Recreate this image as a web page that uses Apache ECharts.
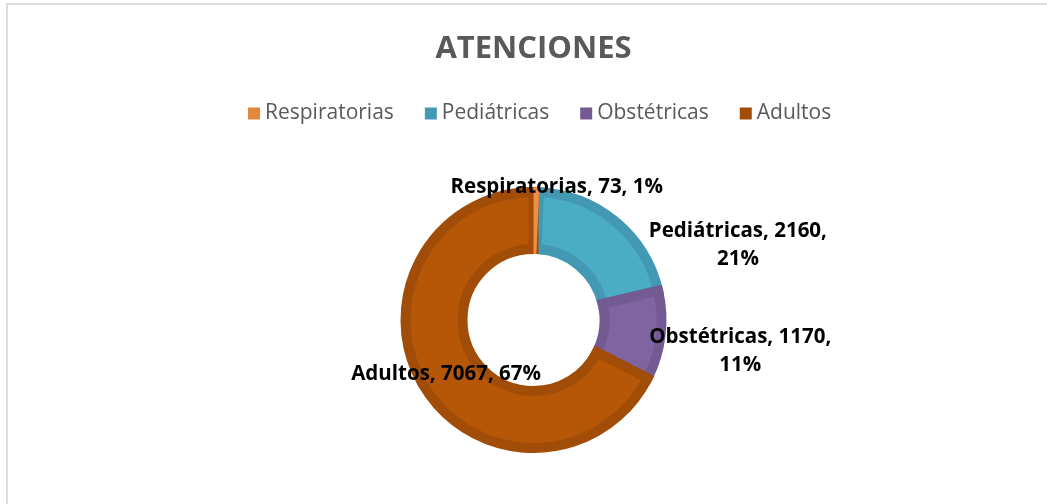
<!DOCTYPE html>
<html>
<head>
<meta charset="utf-8">
<script src="https://cdn.jsdelivr.net/npm/echarts@6/dist/echarts.min.js"></script>
<style>
    html, body { margin: 0; padding: 0; background: #fff; overflow: hidden; }
    #frame { position: absolute; left: 6px; top: 3px; width: 1100px; height: 600px; border: 2px solid #dcdcdc; }
    #chart { position: absolute; left: 0; top: 0; width: 1067px; height: 504px; }
</style>
</head>
<body>
<div id="frame"></div>
<div id="chart"></div>
<script>
const categories = ['Respiratorias', 'Pediátricas', 'Obstétricas', 'Adultos'];
const values = [73, 2160, 1170, 7067];

const fillColors = ['#F79646', '#4BACC6', '#8064A2', '#B65708'];
const darkColors = ['#E0883E', '#4399B4', '#735A93', '#A14D07'];
// label nudges from the default inside spot (Excel "best fit" look)
const labelShift = [[21, -30], [139, 4], [105, 19], [0, 1]];
const wrapPct = [false, true, true, false];

const chart = echarts.init(document.getElementById('chart'));

const option = {
    title: {
        text: 'ATENCIONES',
        left: 'center',
        top: 29,
        textStyle: {
            fontFamily: 'Open Sans',
            fontWeight: 'bold',
            fontSize: 31,
            color: '#595959'
        }
    },
    legend: {
        top: 98,
        left: 243,
        itemWidth: 12,
        itemHeight: 12,
        itemGap: 31,
        icon: 'rect',
        selectedMode: false,
        textStyle: {
            fontFamily: 'Open Sans',
            fontSize: 21,
            color: '#595959'
        },
        data: categories.map((name, i) => ({ name: name, itemStyle: { color: darkColors[i], borderWidth: 0 } }))
    },
    series: [
        {
            type: 'pie',
            center: ['50%', 320],
            radius: [71, 128],
            startAngle: 90,
            clockwise: true,
            percentPrecision: 0,
            avoidLabelOverlap: false,
            data: categories.map((name, i) => ({
                name: name,
                value: values[i],
                itemStyle: { color: fillColors[i], borderColor: darkColors[i], borderWidth: 10, borderJoin: 'miter' }
            })),
            label: {
                show: true,
                position: 'inside',
                color: '#000',
                fontFamily: 'Open Sans',
                fontWeight: 'bold',
                fontSize: 20.5,
                lineHeight: 28,
                textBorderWidth: 0,
                formatter: (p) => p.name + ', ' + p.value + ',' + (wrapPct[p.dataIndex] ? '\n' : ' ') + p.percent + '%'
            },
            labelLine: { show: false },
            labelLayout: (p) => ({ dx: labelShift[p.dataIndex][0], dy: labelShift[p.dataIndex][1] }),
            emphasis: { scale: false }
        },
        {
            // thin Respiratorias slice drawn on top so the neighbours' borders don't hide it
            type: 'pie',
            silent: true,
            center: ['50%', 320],
            radius: [66, 133],
            startAngle: 90,
            clockwise: true,
            data: categories.map((name, i) => ({
                name: name,
                value: values[i],
                itemStyle: { color: i === 0 ? '#EC8E44' : 'rgba(0,0,0,0)', borderWidth: 0 }
            })),
            label: { show: false },
            labelLine: { show: false }
        }
    ]
};

chart.setOption(option);
window.addEventListener('resize', () => {
    chart.resize();
});
</script>
</body>
</html>
